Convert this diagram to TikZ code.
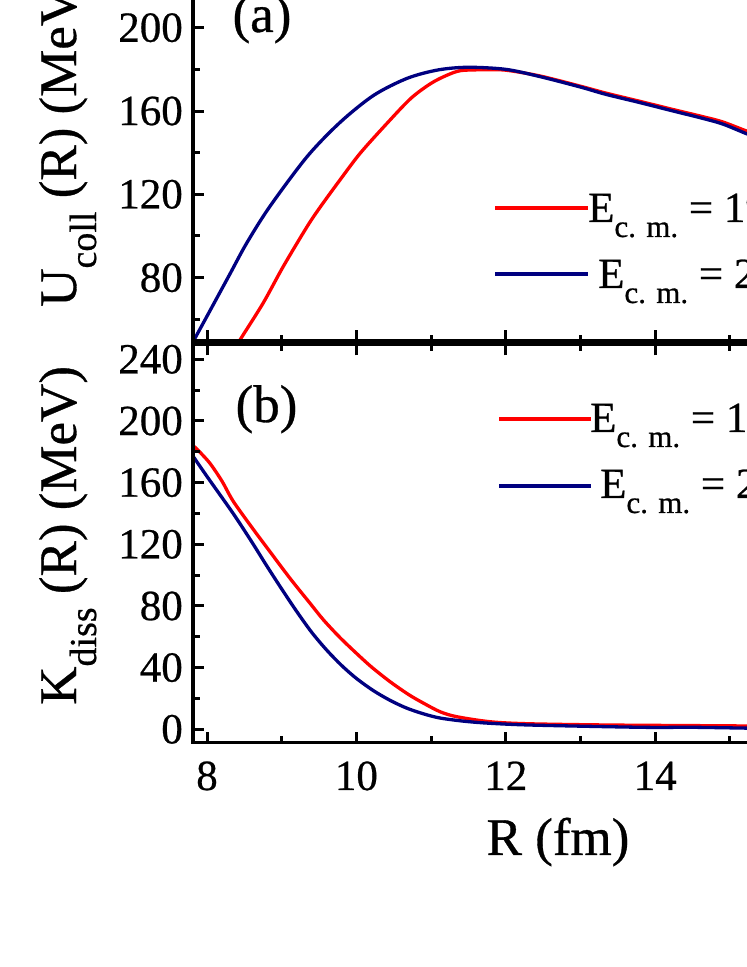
\documentclass[tikz,border=0pt]{standalone}
\usepackage{fontspec}
\setmainfont{Liberation Serif}[FakeBold=0.6]
\definecolor{cred}{RGB}{255,0,0}
\definecolor{cblue}{RGB}{0,0,128}
\newcommand\legE[1]{E\raisebox{-15pt}{\fontsize{31}{31}\selectfont c. m.} = #1}
\begin{document}
\begin{tikzpicture}[x=1pt,y=1pt,
  curve/.style={line width=3.3pt, line join=round, line cap=round},
  legline/.style={line width=3.6pt},
  axisline/.style={line width=3.5pt},
  tickline/.style={line width=3pt},
  ticklab/.style={inner sep=0pt, font=\fontsize{43}{43}\selectfont},
  titlelab/.style={inner sep=0pt, font=\fontsize{53}{53}\selectfont},
  legtext/.style={inner sep=0pt, anchor=base west, font=\fontsize{43}{43}\selectfont}]
\useasboundingbox (0,0) rectangle (747,967);
\clip (0,0) rectangle (747,967);
\fill[white] (0,0) rectangle (747,967);

% ---------- upper panel curves ----------
\begin{scope}
\clip (193,624) rectangle (747,967);
\begin{scope}[shift={(-390.6pt,522.7pt)}, x=74.7pt, y=2.083pt]
\draw[curve, cred] plot[smooth] coordinates {(8.40,47) (8.44,50) (8.75,67.7) (9.02,85.3) (9.34,104.5) (9.52,114.1) (9.78,126.9) (10.05,139.7) (10.41,154.1) (10.73,166.1) (11.0,173.3) (11.22,177.3) (11.4,179.4) (11.7,179.8) (12.0,179.6) (12.46,176.8) (13.0,171.9) (13.34,168.6) (13.8,164.6) (14.24,160.7) (14.6,157.6) (14.9,154.8) (15.23,150.3) (15.4,148.5)};
\draw[curve, cblue] plot[smooth] coordinates {(7.75,45) (7.81,49) (8.0,61.5) (8.3,81.3) (8.53,96.5) (8.84,114.1) (9.34,138.1) (9.78,154.5) (10.23,167.5) (10.68,175.7) (11.09,179.7) (11.49,181) (12.0,180) (12.46,176.5) (13.0,171.5) (13.34,168) (13.8,164) (14.24,160) (14.6,156.8) (14.9,153.8) (15.23,149) (15.4,147)};
\end{scope}
\end{scope}

% ---------- lower panel curves ----------
\begin{scope}
\clip (193,224.3) rectangle (747,624);
\begin{scope}[shift={(-390.6pt,237.7pt)}, x=74.7pt, y=1.5417pt]
\draw[curve, cred] plot[smooth] coordinates {(7.815,184) (7.9,180) (8.04,172.5) (8.2,161) (8.35,148) (8.6,131) (8.8,118) (9.11,98) (9.38,81.7) (9.56,70.9) (9.78,59.5) (10.0,49.3) (10.2,40.5) (10.45,30.9) (10.7,22.5) (10.9,16.9) (11.12,11.4) (11.34,8.2) (11.79,4.9) (12.3,3.6) (13.34,2.8) (14.5,2.4) (15.4,2.1)};
\draw[curve, cblue] plot[smooth] coordinates {(7.815,177) (8.0,164) (8.35,140) (8.6,121.5) (8.8,106) (9.0,91) (9.2,76.5) (9.4,63) (9.6,51.5) (9.8,41.5) (10.0,33) (10.23,25) (10.45,18.8) (10.67,13.8) (10.9,10) (11.12,7.3) (11.45,5.2) (11.79,3.9) (12.3,2.8) (13.34,1.7) (14,1.2) (14.5,1.3) (15.4,0.6)};
\end{scope}
\end{scope}

% ---------- axes ----------
\draw[axisline] (193,967) -- (193,222.55);
\draw[line width=7pt] (191.25,624) -- (747,624);
\draw[axisline] (191.25,224.3) -- (747,224.3);

% x ticks
\foreach \r in {8,10,12,14,16}{
  \pgfmathsetmacro\xx{207+(\r-8)*74.7}
  \draw[tickline] (\xx,224.3) -- ++(0,11);
  \draw[tickline] (\xx,611.5) -- (\xx,636.5);
}
\foreach \r in {9,11,13,15}{
  \pgfmathsetmacro\xx{207+(\r-8)*74.7}
  \draw[tickline] (\xx,224.3) -- ++(0,7);
  \draw[tickline] (\xx,616) -- (\xx,632);
}
% upper y ticks
\foreach \u in {80,120,160,200}{
  \pgfmathsetmacro\yy{522.7+2.083*\u}
  \draw[tickline] (193,\yy) -- ++(11,0);
}
\foreach \u in {60,100,140,180,220}{
  \pgfmathsetmacro\yy{522.7+2.083*\u}
  \draw[tickline] (193,\yy) -- ++(7,0);
}
% lower y ticks
\foreach \k in {0,40,80,120,160,200,240}{
  \pgfmathsetmacro\yy{237.7+1.5417*\k}
  \draw[tickline] (193,\yy) -- ++(11,0);
}
\foreach \k in {20,60,100,140,180,220}{
  \pgfmathsetmacro\yy{237.7+1.5417*\k}
  \draw[tickline] (193,\yy) -- ++(7,0);
}

% tick labels
\node[ticklab, anchor=east] (u200) at (183,939.3) {200};
\node[ticklab, anchor=east] (u160) at (183,856.0) {160};
\node[ticklab, anchor=east] (u120) at (183,772.7) {120};
\node[ticklab, anchor=east] (u80)  at (183,689.3) {80};
\node[ticklab, anchor=east] (k240) at (183,607.7) {240};
\node[ticklab, anchor=east] (k200) at (183,546.0) {200};
\node[ticklab, anchor=east] (k160) at (183,484.4) {160};
\node[ticklab, anchor=east] (k120) at (183,422.7) {120};
\node[ticklab, anchor=east] (k80)  at (183,361.0) {80};
\node[ticklab, anchor=east] (k40)  at (183,299.4) {40};
\node[ticklab, anchor=east] (k0)   at (183,237.7) {0};
\node[ticklab, anchor=base] (x8)  at (207,177) {8};
\node[ticklab, anchor=base] (x10) at (356.4,177) {10};
\node[ticklab, anchor=base] (x12) at (505.8,177) {12};
\node[ticklab, anchor=base] (x14) at (655.2,177) {14};

% axis titles
\node[titlelab, anchor=base] (xlab) at (558,112) {R (fm)};
\node[titlelab, rotate=90, anchor=base west] (ylabU) at (76,660) {U\raisebox{-20pt}{\fontsize{38}{38}\selectfont coll} (R) (MeV)};
\node[titlelab, rotate=90, anchor=base west] (ylabK) at (76,262) {K\raisebox{-20pt}{\fontsize{38}{38}\selectfont diss} (R) (MeV)};

% panel labels
\node[titlelab, anchor=base] (pa) at (262,935) {(a)};
\node[titlelab, anchor=base] (pb) at (266.5,545) {(b)};

% legends
\coordinate (l1a) at (495,759); \coordinate (l1b) at (588,759);
\coordinate (l2a) at (495,693); \coordinate (l2b) at (588,693);
\coordinate (l3a) at (499,548); \coordinate (l3b) at (591,548);
\coordinate (l4a) at (499,481); \coordinate (l4b) at (591,481);
\draw[legline, cred] (l1a) -- (l1b);
\draw[legline, cblue] (l2a) -- (l2b);
\draw[legline, cred] (l3a) -- (l3b);
\draw[legline, cblue] (l4a) -- (l4b);
\node[legtext] (t1) at (588,745) {\legE{19}};
\node[legtext] (t2) at (598,679) {\legE{2}};
\node[legtext] (t3) at (590,535) {\legE{1}};
\node[legtext] (t4) at (600,469) {\legE{2}};
\end{tikzpicture}
\end{document}
